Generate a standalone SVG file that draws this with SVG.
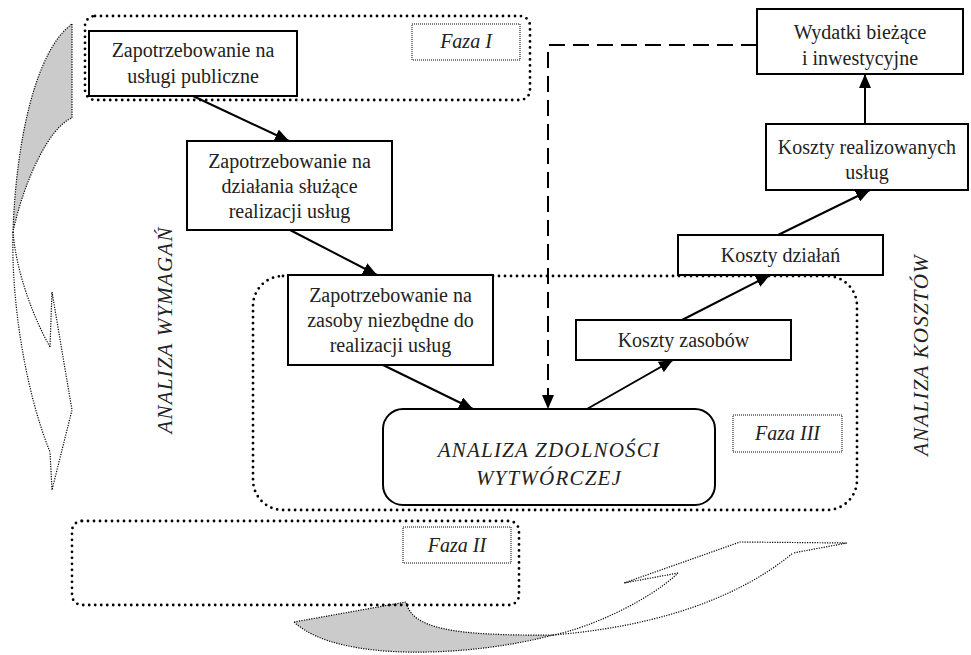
<svg xmlns="http://www.w3.org/2000/svg" width="971" height="655" viewBox="0 0 971 655">
<style>
.bg{fill:#fff}
.box{fill:#fff;stroke:#000;stroke-width:2}
.rbox{fill:#fff;stroke:#000;stroke-width:2}
.phase{fill:none;stroke:#000;stroke-width:2.8;stroke-linecap:round;stroke-dasharray:0 6}
.lbl{fill:#fff;stroke:#000;stroke-width:1;stroke-dasharray:1 1}
.curve{fill:none;stroke:#000;stroke-width:1.2;stroke-dasharray:1.2 1.3}
.shade{fill:#cbcbcb;stroke:#000;stroke-width:1.2;stroke-dasharray:1.2 1.3}
.t{font-size:20px;fill:#222;text-anchor:middle}
.ti{font-size:20px;font-style:italic;fill:#222;text-anchor:middle}
.tc{font-size:21px;font-style:italic;fill:#222;text-anchor:middle;letter-spacing:1.2px}
.conn{fill:none;stroke:#000;stroke-width:2}
.dash{fill:none;stroke:#000;stroke-width:2;stroke-dasharray:16 8}
</style>
<defs>
<marker id="ah" viewBox="0 0 14 12" refX="14" refY="6" markerWidth="14" markerHeight="12" markerUnits="userSpaceOnUse" orient="auto">
<path d="M0,0 L14,6 L0,12 z" fill="#000"/>
</marker>
</defs>
<rect class="bg" x="0" y="0" width="971" height="655"/>

<g id="arrow-left">
<path class="shade" d="M72,24 L72,118 C50,126 24,180 13,232 C16,140 36,50 72,24 Z"/>
<path class="curve" d="M13,232 C11,300 25,390 50,452"/>
<path class="curve" d="M13,232 C16,270 32,315 50,347"/>
<path class="curve" d="M50,347 L52,292 L72,410 L52,490 L50,452"/>
</g>

<g id="arrow-bottom">
<path class="shade" d="M294,622 L406,602 C412,628 450,636 553,635 C480,655 340,665 294,622 Z"/>
<path class="curve" d="M553,635 C590,628 650,600 678,573"/>
<path class="curve" d="M553,635 C640,628 730,605 793,553"/>
<path class="curve" d="M678,573 L624,583 L740,542 L847,543 L793,553"/>
</g>

<g font-family="'Liberation Serif', 'DejaVu Serif', serif">
<g id="faza1">
<rect class="phase" x="85" y="16" width="445" height="84" rx="10"/>
<rect class="lbl" x="412" y="24" width="108" height="36"/>
<text class="ti" x="466" y="48">Faza I</text>
</g>

<g id="faza3">
<rect class="phase" x="253" y="276" width="604" height="234" rx="30"/>
<rect class="lbl" x="733" y="415" width="109" height="37"/>
<text class="ti" x="787.5" y="440">Faza III</text>
</g>

<g id="faza2">
<rect class="phase" x="72" y="521" width="447" height="84" rx="10"/>
<rect class="lbl" x="403" y="527" width="108" height="36"/>
<text class="ti" x="457" y="552">Faza II</text>
</g>

<g id="label-wymagan">
<text class="tc" transform="translate(172,330) rotate(-90)">ANALIZA WYMAGAŃ</text>
</g>
<g id="label-kosztow">
<text class="tc" transform="translate(928,355) rotate(-90)">ANALIZA KOSZTÓW</text>
</g>

<g id="connectors">
<path class="conn" d="M193,96 L289,141" marker-end="url(#ah)"/>
<path class="conn" d="M290,230 L377,275" marker-end="url(#ah)"/>
<path class="conn" d="M383,365 L473,409" marker-end="url(#ah)"/>
<path class="conn" d="M587,409 L673,360" marker-end="url(#ah)"/>
<path class="conn" d="M682,320 L770,275" marker-end="url(#ah)"/>
<path class="conn" d="M778,235 L870,190" marker-end="url(#ah)"/>
<path class="conn" d="M865,124 L865,74" marker-end="url(#ah)"/>
<path class="dash" d="M757,45 H548 V409" marker-end="url(#ah)"/>
</g>

<g id="n1">
<rect class="box" x="89" y="31" width="208" height="65"/>
<text class="t" x="193" y="57">Zapotrzebowanie na</text>
<text class="t" x="193" y="83">usługi publiczne</text>
</g>

<g id="n2">
<rect class="box" x="187" y="141" width="205" height="89"/>
<text class="t" x="289.5" y="168">Zapotrzebowanie na</text>
<text class="t" x="289.5" y="193">działania służące</text>
<text class="t" x="289.5" y="218">realizacji usług</text>
</g>

<g id="n3">
<rect class="box" x="288" y="275" width="205" height="90"/>
<text class="t" x="390.5" y="302">Zapotrzebowanie na</text>
<text class="t" x="390.5" y="327">zasoby niezbędne do</text>
<text class="t" x="390.5" y="352">realizacji usług</text>
</g>

<g id="n-analiza">
<rect class="rbox" x="383" y="409" width="332" height="96" rx="20"/>
<text class="tc" x="549" y="457">ANALIZA ZDOLNOŚCI</text>
<text class="tc" x="549" y="485">WYTWÓRCZEJ</text>
</g>

<g id="n-zasoby">
<rect class="box" x="576" y="320" width="215" height="40"/>
<text class="t" x="683.5" y="347">Koszty zasobów</text>
</g>

<g id="n-dzialania">
<rect class="box" x="678" y="235" width="205" height="40"/>
<text class="t" x="780.5" y="262">Koszty działań</text>
</g>

<g id="n-uslugi">
<rect class="box" x="766" y="124" width="202" height="66"/>
<text class="t" x="867" y="154">Koszty realizowanych</text>
<text class="t" x="867" y="179">usług</text>
</g>

<g id="n-wydatki">
<rect class="box" x="757" y="9" width="206" height="65"/>
<text class="t" x="860" y="39">Wydatki bieżące</text>
<text class="t" x="860" y="65">i inwestycyjne</text>
</g>
</g>
</svg>
